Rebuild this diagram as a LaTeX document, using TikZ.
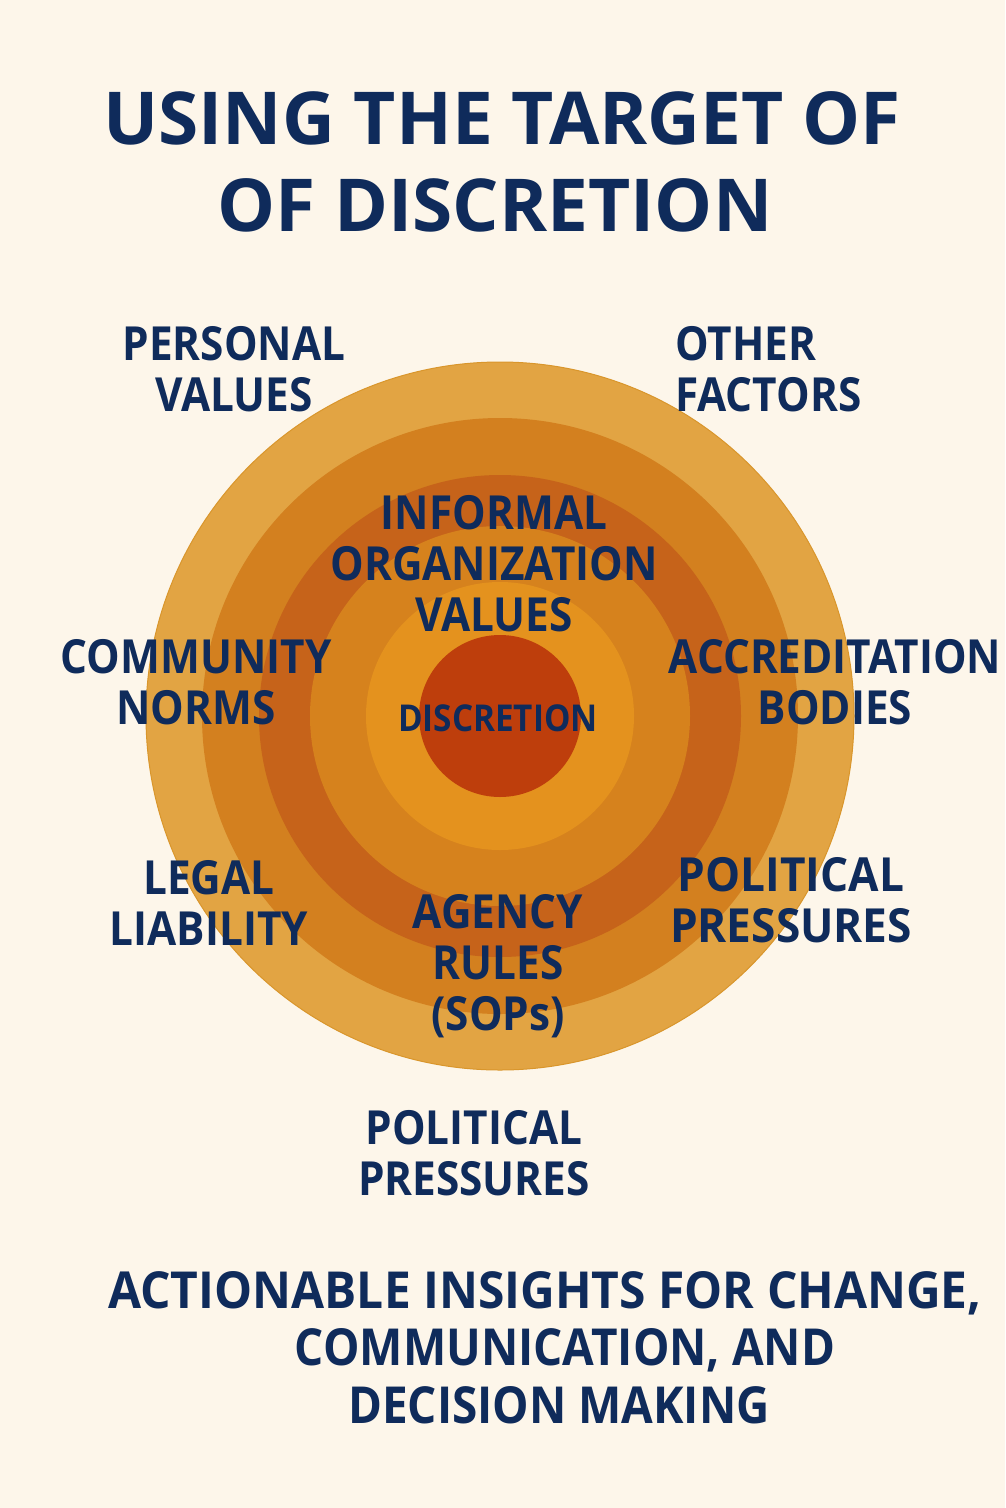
\documentclass[tikz,border=0pt]{standalone}
\usepackage{fontspec}
\newfontfamily\titlefont{Open Sans}
\newfontfamily\labfont{Open Sans}[FakeStretch=0.9]
\newfontfamily\labwidefont{Open Sans}[FakeStretch=0.94]
\definecolor{bg}{HTML}{FDF6EA}
\definecolor{ringA}{HTML}{E2A443}
\definecolor{ringAedge}{HTML}{D9962C}
\definecolor{ringB}{HTML}{D3801F}
\definecolor{ringC}{HTML}{C6631A}
\definecolor{ringD}{HTML}{D6821D}
\definecolor{ringE}{HTML}{E4921E}
\definecolor{core}{HTML}{BE3E0C}
\definecolor{navy}{HTML}{0F2B5B}
\begin{document}
\begin{tikzpicture}[x=1pt,y=-1pt,
  lbl/.style={text=navy, inner sep=0pt, align=center,
    font=\labfont\bfseries\fontsize{47}{51}\selectfont},
  ttl/.style={text=navy, inner sep=0pt, align=center,
    font=\titlefont\bfseries\fontsize{73}{87}\selectfont},
  btm/.style={text=navy, inner sep=0pt, align=center,
    font=\labfont\bfseries\fontsize{51}{57.5}\selectfont}]
\fill[bg] (0,0) rectangle (1005,1508);
\useasboundingbox (0,0) rectangle (1005,1508);
\coordinate (c) at (500,716);
\fill[ringA, draw=ringAedge, line width=1pt] (c) circle[radius=354];
\fill[ringB] (c) circle[radius=298];
\fill[ringC] (c) circle[radius=241];
\fill[ringD] (c) circle[radius=190];
\fill[ringE] (c) circle[radius=134];
\fill[core] (c) circle[radius=81];

\node[ttl] (title) at (502,161.5) {USING THE TARGET OF\\OF DISCRETION\hspace*{14pt}};
\node[lbl] (personal) at (234,369.5) {PERSONAL\\VALUES};
\node[lbl, align=left, anchor=west] (other) at (675,369.5) {OTHER\\FACTORS};
\node[lbl] (informal) at (494,563.5) {INFORMAL\\ORGANIZATION\\VALUES};
\node[lbl] (community) at (196,682) {COMMUNITY\\NORMS};
\node[lbl, font=\labfont\bfseries\fontsize{37}{40}\selectfont] (discretion) at (498,718) {DISCRETION};
\node[lbl] (accred) at (835,682) {ACCREDITATION\\BODIES};
\node[lbl] (legal) at (209,902.5) {LEGAL\\LIABILITY};
\node[lbl, font=\labwidefont\bfseries\fontsize{47}{51}\selectfont] (polright) at (791,900) {POLITICAL\\PRESSURES};
\node[lbl] (agency) at (498,966.5) {AGENCY\\RULES\\(SOPs)};
\node[lbl] (polbottom) at (474,1153.5) {POLITICAL\\PRESSURES};
\node[btm] (insights) at (555,1347.5) {{\labwidefont ACTIONABLE INSIGHTS FOR CHANGE,}\hspace*{20pt}\\\hspace*{20pt}COMMUNICATION, AND\\\hspace*{8pt}DECISION MAKING};
\end{tikzpicture}
\end{document}
